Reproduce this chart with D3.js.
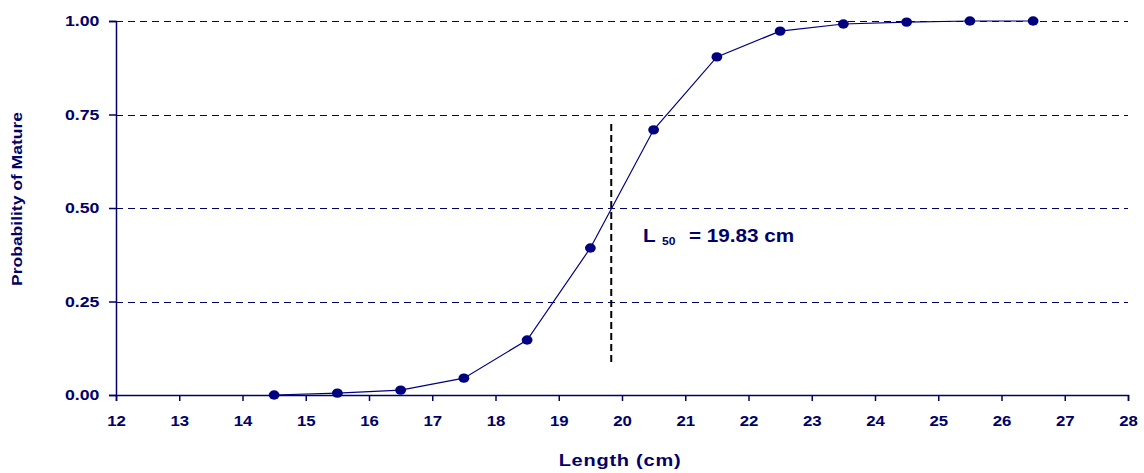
<!DOCTYPE html>
<html lang="en">
<head>
  <meta charset="UTF-8">
  <title>Probability of Mature</title>
  <script src="https://d3js.org/d3.v7.min.js"></script>
  <style>
    body { margin: 0; background: #fff; font-family: "Liberation Sans", Arial, sans-serif; }
    svg { display: block; }
    text { fill: #000066; font-weight: bold; }
    .grid { stroke: #000066; stroke-dasharray: 7,5; stroke-width: 1; shape-rendering: crispEdges; }
    .l50-line { stroke: #000; stroke-dasharray: 7,4; stroke-width: 2; }
  </style>
</head>
<body>
  <script>
    // length classes (cm) and fitted proportion mature
    const lengths = [14.5, 15.5, 16.5, 17.5, 18.5, 19.5, 20.5, 21.5, 22.5, 23.5, 24.5, 25.5, 26.5];
    const probs = [0.0, 0.005, 0.013, 0.045, 0.147, 0.393, 0.709, 0.904, 0.973, 0.992, 0.997, 1.0, 1.0];
    const xTicks = d3.range(12, 29);
    const yTicks = [0, 0.25, 0.5, 0.75, 1.0];
    const l50 = 19.83;
    const l50Span = [0.088, 0.735];

    const width = 1144, height = 473;
    const margin = { left: 116, right: 16, top: 21, bottom: 78 };

    const svg = d3.select("body").append("svg")
      .attr("width", width)
      .attr("height", height);

    const x = d3.scaleLinear().domain([12, 28]).range([margin.left, width - margin.right]);
    const y = d3.scaleLinear().domain([0, 1]).range([height - margin.bottom, margin.top]);

    // dashed gridlines
    svg.selectAll(".grid")
      .data(yTicks.filter(d => d > 0))
      .join("line")
      .attr("class", "grid")
      .attr("x1", x(12)).attr("x2", x(28))
      .attr("y1", d => Math.round(y(d)) + 0.5).attr("y2", d => Math.round(y(d)) + 0.5);

    // axes
    const yAxis = svg.append("g")
      .attr("transform", `translate(${x(12)},0)`)
      .call(d3.axisLeft(y).tickValues(yTicks).tickFormat(d3.format(".2f")).tickSize(7).tickPadding(9));
    const xAxis = svg.append("g")
      .attr("transform", `translate(0,${y(0)})`)
      .call(d3.axisBottom(x).tickValues(xTicks).tickFormat(d3.format("d")).tickSize(6).tickPadding(14));

    [yAxis, xAxis].forEach(a => {
      a.select(".domain").attr("stroke", "#000066").attr("stroke-width", 1.5);
      a.selectAll(".tick line").attr("stroke", "#000066").attr("stroke-width", 1.5);
      a.selectAll(".tick text")
        .attr("font-size", 15)
        .attr("font-family", "Liberation Sans, Arial, sans-serif");
    });
    // widen the glyphs a little, like the original export
    const ys = 1.18, xs = 1.12;
    yAxis.selectAll(".tick text").attr("x", -16.7 / ys).attr("transform", `scale(${ys},1)`);
    xAxis.selectAll(".tick text").attr("transform", `scale(${xs},1)`);

    // L50 marker
    svg.append("line")
      .attr("class", "l50-line")
      .attr("x1", x(l50)).attr("x2", x(l50))
      .attr("y1", y(l50Span[0])).attr("y2", y(l50Span[1]));

    // curve
    const pts = lengths.map((d, i) => [d, probs[i]]);
    svg.append("path")
      .datum(pts)
      .attr("fill", "none")
      .attr("stroke", "#000080")
      .attr("stroke-width", 1.2)
      .attr("d", d3.line().x(d => x(d[0])).y(d => y(d[1])));

    svg.selectAll(".pt")
      .data(pts)
      .join("ellipse")
      .attr("class", "pt")
      .attr("cx", d => x(d[0]))
      .attr("cy", d => y(d[1]))
      .attr("rx", 5.4).attr("ry", 4.7)
      .attr("fill", "#000080");

    // annotation
    svg.append("text")
      .attr("transform", "translate(643,242) scale(1.15,1)")
      .attr("font-size", 18)
      .text("L");
    svg.append("text")
      .attr("transform", "translate(662,245) scale(1.1,1)")
      .attr("font-size", 11)
      .text("50");
    svg.append("text")
      .attr("transform", "translate(689,242) scale(1.15,1)")
      .attr("font-size", 18)
      .text("= 19.83 cm");

    // axis titles
    svg.append("text")
      .attr("transform", "translate(620,466) scale(1.25,1)")
      .attr("text-anchor", "middle")
      .attr("font-size", 16)
      .attr("letter-spacing", 0.6)
      .text("Length (cm)");

    svg.append("text")
      .attr("transform", "translate(22,199) rotate(-90) scale(1.25,1)")
      .attr("text-anchor", "middle")
      .attr("font-size", 14)
      .text("Probability of  Mature");
  </script>
</body>
</html>
